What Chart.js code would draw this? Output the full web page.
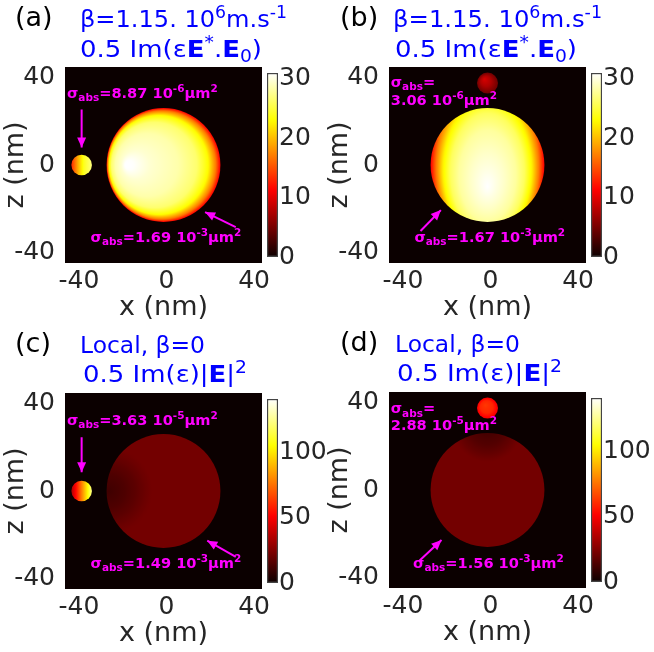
<!DOCTYPE html>
<html><head><meta charset="utf-8">
<script src="https://cdn.jsdelivr.net/npm/chart.js@4.4.1/dist/chart.umd.min.js"></script>
<style>
html,body{margin:0;padding:0;background:#fff;}
#wrap{position:relative;width:654px;height:652px;overflow:hidden;background:#fff;}
canvas{position:absolute;}
</style></head><body><div id="wrap"></div>
<script>
// ================= DATA =================
const axisTicks = [-40, 0, 40];
const axisMin = -45, axisMax = 45;
const colorbarTicksTop = [0, 10, 20, 30];
const colorbarTicksBottom = [0, 50, 100];
const colorMaxTop = 31;
const colorMaxBottom = 141;

// sphere geometry (nm): [x, z, radius]
const bigSphere = [0, 0, 26];
const smallSphereSide = [-37.4, 0, 4.7];
const smallSphereTop = [0, 37.6, 4.8];

// absorbed power density read along each sphere's gradient: [stop, value]
const fieldBigA = [[0,31.5],[0.25,29.6],[0.55,28.4],[0.75,26.5],[0.87,23],[0.95,17],[1,11]];
const fieldSmallA = [[0,13],[0.3,19],[0.6,24],[1,27]];
const fieldBigB = [[0,31],[0.3,29.3],[0.5,28],[0.65,26],[0.78,22.5],[0.9,17],[1,11]];
const fieldSmallB = [[0,9.5],[0.5,7.5],[1,4.5]];
const fieldBigC = [[0,11],[0.35,14],[0.6,17],[0.85,20.5],[1,22]];
const fieldSmallC = [[0,33],[0.25,55],[0.5,78],[0.75,100],[1,125]];
const fieldBigD = [[0,11],[0.5,15],[1,22]];
const fieldSmallD = [[0,63],[0.6,59],[1,48]];

// absorption cross sections
const sigmaSmall = ['8.87', '3.06', '3.63', '2.88'];
const sigmaSmallExp = ['-6', '-6', '-5', '-5'];
const sigmaBig = ['1.69', '1.67', '1.49', '1.56'];
const sigmaBigExp = ['-3', '-3', '-3', '-3'];

// arrows (nm): [x1, z1, x2, z2]
const arrowsA = [[-37.4,25.5,-37.4,8.0],[33,-28.5,19,-21.6]];
const arrowsB = [[-30.6,-30.3,-21.3,-20.7]];
const arrowsC = [[-37.4,24.7,-37.4,8.6],[33,-30.2,20,-22.8]];
const arrowsD = [[-31,-32.4,-21,-23]];

const panelLetters = ['(a)', '(b)', '(c)', '(d)'];
const titleNonLocal1 = [['β=1.15. 10',''],['6','^'],['m.s',''],['-1','^']];
const titleNonLocal2 = [['0.5 Im(ε',''],['E','b'],['*','^'],['.',''],['E','b'],['0','_'],[')','']];
const titleLocal1 = [['Local, β=0','']];
const titleLocal2 = [['0.5 Im(ε)|',''],['E','b'],['|',''],['2','^']];

// ================= STYLE / LAYOUT =================
const FAM = '"DejaVu Sans"';
const MAG = '#ff00ff';
const BLUE = '#0000ff';
const INK = '#262626';

function hot(t){
  t = Math.max(0, Math.min(1, t));
  const i = t*63 + 1;
  const r = Math.min(1, i/24);
  const g = Math.max(0, Math.min(1, (i-24)/24));
  const b = Math.max(0, Math.min(1, (i-48)/16));
  return `rgb(${Math.round(r*255)},${Math.round(g*255)},${Math.round(b*255)})`;
}
function addStops(grad, stops, cmax){
  for (let k=0;k<stops.length;k++){
    const [o,v] = stops[k];
    grad.addColorStop(o, hot(v/cmax));
    if (k < stops.length-1){
      const [o2,v2] = stops[k+1];
      for (let j=1;j<6;j++){
        const f=j/6;
        grad.addColorStop(o+(o2-o)*f, hot((v+(v2-v)*f)/cmax));
      }
    }
  }
}
function richWidth(ctx, segs, base, allBold){
  let w = 0;
  for (const [txt, st] of segs){
    const bold = allBold || st.includes('b');
    const small = st.includes('^') || st.includes('_');
    ctx.font = `${bold?'bold ':''}${small?base*0.72:base}px ${FAM}`;
    w += ctx.measureText(txt).width;
  }
  return w;
}
function drawRich(ctx, x, y, segs, base, color, allBold){
  let cx = x;
  ctx.textBaseline = 'alphabetic';
  ctx.textAlign = 'left';
  for (const [txt, st] of segs){
    const bold = allBold || st.includes('b');
    const sup = st.includes('^'), sub = st.includes('_');
    const size = (sup||sub) ? base*0.72 : base;
    ctx.font = `${bold?'bold ':''}${size}px ${FAM}`;
    const dy = sup ? -base*0.4 : sub ? base*0.22 : 0;
    ctx.fillStyle = color;
    ctx.fillText(txt, cx, y+dy);
    cx += ctx.measureText(txt).width;
  }
}
// fixed glyph height, horizontally stretched to the reference line width
function drawRichFit(ctx, x, y, segs, base, targetW, color, allBold){
  const w = richWidth(ctx, segs, base, allBold);
  ctx.save();
  ctx.translate(x, y);
  ctx.scale(targetW / w, 1);
  drawRich(ctx, 0, 0, segs, base, color, allBold);
  ctx.restore();
}
function sigmaSegs(val, exp){
  return [['σ',''],['abs','_'],['='+val+' 10',''],[exp,'^'],['μm',''],['2','^']];
}

const panels = [
  { left:0, top:0, cmax:colorMaxTop, cbTicks:colorbarTicksTop, arrows:arrowsA,
    letterX:15, titleX1:80, titleX2:80, base1:27, base2:57, w1:207, w2:182, t1:titleNonLocal1, t2:titleNonLocal2,
    spheres:[
      {s:bigSphere, stops:fieldBigA, g:{type:'radial', fx:-17, fz:0, cx:0, cz:0, cr:26, sy:1}},
      {s:smallSphereSide, stops:fieldSmallA, g:{type:'linear'}}
    ],
    smallLabel:{x:-44.1, z:30.8, split:false}, bigLabel:{x:-33.3, z:-35.2} },
  { left:324, top:0, cmax:colorMaxTop, cbTicks:colorbarTicksTop, arrows:arrowsB,
    letterX:16, titleX1:69, titleX2:71, base1:27, base2:57, w1:209, w2:182, t1:titleNonLocal1, t2:titleNonLocal2,
    spheres:[
      {s:bigSphere, stops:fieldBigB, g:{type:'radial', fx:0, fz:-10, cx:0, cz:0, cr:26, sy:1.6}},
      {s:smallSphereTop, stops:fieldSmallB, g:{type:'radial', fx:-1.5, fz:39.5, cx:0, cz:37.6, cr:4.8, sy:1}}
    ],
    smallLabel:{x:-44.2, z:36, z2:27.6, split:true}, bigLabel:{x:-33.4, z:-35.2} },
  { left:0, top:326, cmax:colorMaxBottom, cbTicks:colorbarTicksBottom, arrows:arrowsC,
    letterX:15, titleX1:80, titleX2:83, base1:27, base2:56, w1:125, w2:164, t1:titleLocal1, t2:titleLocal2,
    spheres:[
      {s:bigSphere, stops:fieldBigC, g:{type:'radial', fx:-25, fz:0, cx:-25, cz:0, cr:20, sy:1}},
      {s:smallSphereSide, stops:fieldSmallC, g:{type:'linear'}}
    ],
    smallLabel:{x:-44.1, z:30.3, split:false}, bigLabel:{x:-33.3, z:-35.3} },
  { left:324, top:325, cmax:colorMaxBottom, cbTicks:colorbarTicksBottom, arrows:arrowsD,
    letterX:16, titleX1:71, titleX2:73, base1:27, base2:56, w1:125, w2:165, t1:titleLocal1, t2:titleLocal2,
    spheres:[
      {s:bigSphere, stops:fieldBigD, g:{type:'radial', fx:0, fz:29, cx:0, cz:29, cr:16, sy:1}},
      {s:smallSphereTop, stops:fieldSmallD, g:{type:'radial', fx:-1, fz:39, cx:0, cz:37.6, cr:4.8, sy:1}}
    ],
    smallLabel:{x:-44.2, z:35.2, z2:27.6, split:true}, bigLabel:{x:-34, z:-35.8} }
];

const W = 327, H = 326, CBW = 72;
const LBL = 14.6;
const TITLE = 23.5;
const wrap = document.getElementById('wrap');

function makeCanvas(left, top, w, h){
  const c = document.createElement('canvas');
  c.width = w; c.height = h;
  c.style.left = left+'px'; c.style.top = top+'px';
  c.style.width = w+'px'; c.style.height = h+'px';
  wrap.appendChild(c);
  return c;
}

function panelPlugin(p, idx){
  return {
    id:'panelDraw'+idx,
    beforeDatasetsDraw(chart){
      const {ctx, chartArea:a, scales:{x:xs, y:ys}} = chart;
      ctx.save();
      ctx.fillStyle = hot(0);
      ctx.fillRect(a.left, a.top, a.right-a.left, a.bottom-a.top);
      ctx.beginPath(); ctx.rect(a.left, a.top, a.right-a.left, a.bottom-a.top); ctx.clip();
      for (const sp of p.spheres){
        const [sx, sz, sr] = sp.s;
        const px = xs.getPixelForValue(sx), py = ys.getPixelForValue(sz);
        const pr = xs.getPixelForValue(sx+sr) - px;
        ctx.save();
        ctx.beginPath(); ctx.arc(px, py, pr, 0, Math.PI*2); ctx.clip();
        let grad;
        if (sp.g.type === 'linear'){
          grad = ctx.createLinearGradient(px-pr, py, px+pr, py);
          addStops(grad, sp.stops, p.cmax);
          ctx.fillStyle = grad;
          ctx.fillRect(px-pr-2, py-pr-2, 2*pr+4, 2*pr+4);
        } else {
          const g = sp.g;
          const cx = xs.getPixelForValue(g.cx), cy = ys.getPixelForValue(g.cz);
          const cr = xs.getPixelForValue(g.cx+g.cr) - cx;
          const fx = xs.getPixelForValue(g.fx), fy = ys.getPixelForValue(g.fz);
          ctx.translate(cx, cy);
          ctx.scale(1, g.sy);
          grad = ctx.createRadialGradient(fx-cx, (fy-cy)/g.sy, 0, 0, 0, cr);
          addStops(grad, sp.stops, p.cmax);
          ctx.fillStyle = grad;
          ctx.fillRect(-400, -400, 800, 800);
        }
        ctx.restore();
      }
      ctx.restore();
    },
    afterDatasetsDraw(chart){
      const {ctx, scales:{x:xs, y:ys}} = chart;
      ctx.save();
      chart.data.datasets.forEach((ds, i) => {
        const pts = chart.getDatasetMeta(i).data;
        if (pts.length < 2) return;
        const a = pts[0], b = pts[1];
        const ang = Math.atan2(b.y-a.y, b.x-a.x);
        const L = 10, Wd = 4.5;
        ctx.beginPath();
        ctx.moveTo(b.x, b.y);
        ctx.lineTo(b.x - L*Math.cos(ang) + Wd*Math.sin(ang), b.y - L*Math.sin(ang) - Wd*Math.cos(ang));
        ctx.lineTo(b.x - L*Math.cos(ang) - Wd*Math.sin(ang), b.y - L*Math.sin(ang) + Wd*Math.cos(ang));
        ctx.closePath();
        ctx.fillStyle = MAG; ctx.fill();
      });
      const sl = p.smallLabel;
      if (!sl.split){
        drawRich(ctx, xs.getPixelForValue(sl.x), ys.getPixelForValue(sl.z), sigmaSegs(sigmaSmall[idx], sigmaSmallExp[idx]), LBL, MAG, true);
      } else {
        drawRich(ctx, xs.getPixelForValue(sl.x), ys.getPixelForValue(sl.z), [['σ',''],['abs','_'],['=','']], LBL, MAG, true);
        drawRich(ctx, xs.getPixelForValue(sl.x), ys.getPixelForValue(sl.z2), [[sigmaSmall[idx]+' 10',''],[sigmaSmallExp[idx],'^'],['μm',''],['2','^']], LBL, MAG, true);
      }
      const bl = p.bigLabel;
      drawRich(ctx, xs.getPixelForValue(bl.x), ys.getPixelForValue(bl.z), sigmaSegs(sigmaBig[idx], sigmaBigExp[idx]), LBL, MAG, true);
      ctx.restore();
    },
    afterDraw(chart){
      const ctx = chart.ctx;
      ctx.save();
      drawRich(ctx, p.letterX, 26, [[panelLetters[idx], '']], 27, '#000', false);
      drawRichFit(ctx, p.titleX1, p.base1, p.t1, TITLE, p.w1, BLUE, false);
      drawRichFit(ctx, p.titleX2, p.base2, p.t2, TITLE, p.w2, BLUE, false);
      ctx.restore();
    }
  };
}

panels.forEach((p, idx) => {
  const c = makeCanvas(p.left, p.top, W, H);
  new Chart(c, {
    type:'scatter',
    data:{ datasets: p.arrows.map(a => ({
      data:[{x:a[0], y:a[1]}, {x:a[2], y:a[3]}],
      showLine:true, borderColor:MAG, borderWidth:2, pointRadius:0, pointHoverRadius:0, fill:false
    }))},
    options:{
      responsive:false, animation:false, devicePixelRatio:1, events:[],
      layout:{ padding:{ left:0, right:65, top:67, bottom:0 } },
      plugins:{ legend:{display:false}, tooltip:{enabled:false} },
      scales:{
        x:{ type:'linear', min:axisMin, max:axisMax,
            afterBuildTicks: s => { s.ticks = axisTicks.map(v => ({value:v})); },
            afterFit: s => { s.height = 63; },
            grid:{display:false, drawTicks:false}, border:{display:false},
            ticks:{ font:{family:'DejaVu Sans', size:25}, color:INK, padding:3, labelOffset:3, maxRotation:0, autoSkip:false },
            title:{ display:true, text:'x (nm)', font:{family:'DejaVu Sans', size:27}, color:INK, padding:{top:0, bottom:2} } },
        y:{ type:'linear', min:axisMin, max:axisMax,
            afterBuildTicks: s => { s.ticks = axisTicks.map(v => ({value:v})); },
            afterFit: s => { s.width = 65; },
            grid:{display:false, drawTicks:false}, border:{display:false},
            ticks:{ font:{family:'DejaVu Sans', size:25}, color:INK, padding:10, autoSkip:false },
            title:{ display:true, text:'z (nm)', font:{family:'DejaVu Sans', size:27}, color:INK, padding:{top:0, bottom:0} } }
      }
    },
    plugins:[panelPlugin(p, idx)]
  });

  const cb = makeCanvas(p.left + 262, p.top, CBW, H);
  new Chart(cb, {
    type:'bar',
    data:{ labels:[''], datasets:[{
      data:[p.cmax],
      backgroundColor: (ctx) => {
        const ch = ctx.chart, a = ch.chartArea;
        if (!a) return hot(0.5);
        const g = ch.ctx.createLinearGradient(0, a.bottom, 0, a.top);
        for (let k=0;k<=64;k++) g.addColorStop(k/64, hot(k/64));
        return g;
      },
      borderColor:'#444', borderWidth:1.5, borderSkipped:false,
      barPercentage:1, categoryPercentage:1
    }]},
    options:{
      responsive:false, animation:false, devicePixelRatio:1, events:[],
      layout:{ padding:{ left:5, right:0, top:73, bottom:69 } },
      plugins:{ legend:{display:false}, tooltip:{enabled:false} },
      scales:{
        x:{ display:false },
        y:{ position:'right', min:0, max:p.cmax,
            afterBuildTicks: s => { s.ticks = p.cbTicks.map(v => ({value:v})); },
            afterFit: s => { s.width = CBW - 5 - 11; },
            grid:{display:false, drawTicks:false}, border:{display:false},
            ticks:{ font:{family:'DejaVu Sans', size:25}, color:INK, padding:1, autoSkip:false } }
      }
    }
  });
});
</script>
</body></html>
